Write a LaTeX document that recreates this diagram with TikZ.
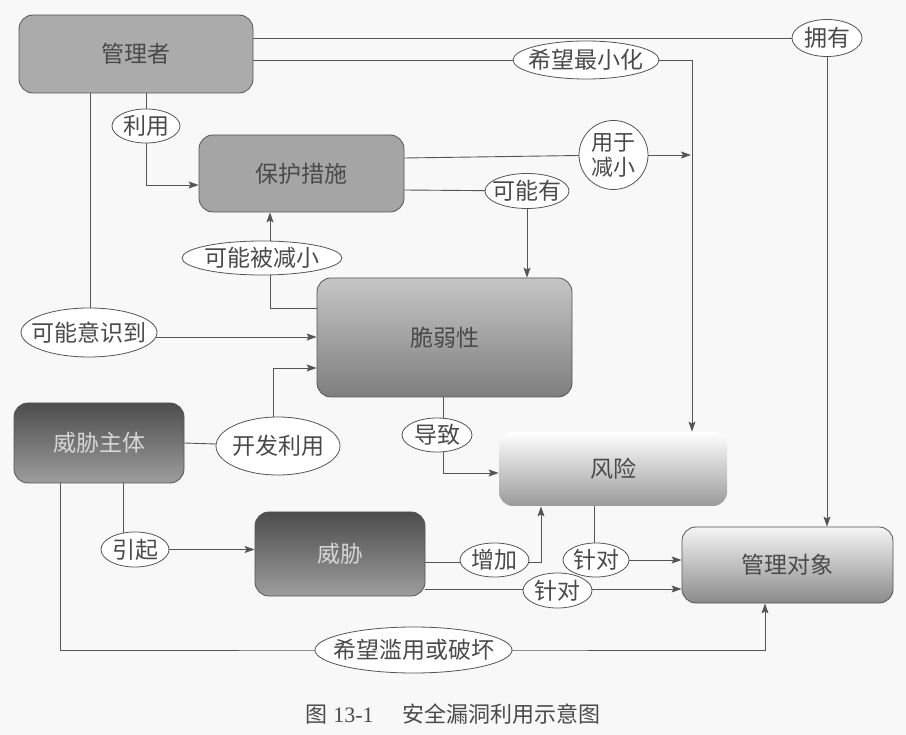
\documentclass[tikz,border=0pt]{standalone}
\usepackage{fontspec}
\setmainfont{Liberation Serif}
\newfontfamily\cjk{Noto Sans CJK SC}
\usetikzlibrary{shapes.geometric,arrows.meta,backgrounds}
\definecolor{lncol}{HTML}{555555}
\definecolor{txt}{HTML}{4A4A4A}
\definecolor{lighttxt}{HTML}{D6D6D6}
\definecolor{bgcol}{HTML}{F8F8F8}
\definecolor{mgrfill}{HTML}{ABABAB}
\definecolor{protfill}{HTML}{A5A5A5}
\definecolor{vultop}{HTML}{C6C6C6}
\definecolor{vulbot}{HTML}{7E7E7E}
\definecolor{darktop}{HTML}{4D4D4D}
\definecolor{darkmid}{HTML}{585858}
\definecolor{darkbot}{HTML}{9D9D9D}
\definecolor{riskbot}{HTML}{9A9A9A}
\definecolor{objtop}{HTML}{F5F5F5}
\definecolor{objbot}{HTML}{8A8A8A}
\begin{document}
\begin{tikzpicture}[x=1pt,y=-1pt,
  font=\cjk\fontsize{23}{26}\selectfont,
  every label/.style={text=txt, inner sep=0pt},
  box/.style={rounded corners=14pt, draw=lncol, line width=0.8pt, inner sep=0pt, align=center, text=txt},
  lab/.style={ellipse, draw=lncol, line width=0.8pt, fill=white, inner sep=0pt},
  con/.style={draw=lncol, line width=0.9pt},
  arr/.style={con, -{Stealth[length=10pt,width=7pt,inset=2pt]}}
]
\useasboundingbox (0,0) rectangle (906,735);

% boxes
\node[box, minimum width=234pt, minimum height=78pt, fill=mgrfill] (mgr) at (136,54) {管理者};
\node[box, minimum width=205pt, minimum height=77pt, fill=protfill] (prot) at (301.5,173.5) {保护措施};
\node[box, minimum width=255pt, minimum height=119pt, top color=vultop, bottom color=vulbot] (vul) at (444.5,337.5) {脆弱性};
\node[box, minimum width=170pt, minimum height=80pt, top color=darktop, middle color=darkmid, bottom color=darkbot, text=lighttxt] (tsub) at (99,443) {威胁主体};
\node[box, minimum width=170pt, minimum height=84pt, top color=darktop, middle color=darkmid, bottom color=darkbot, text=lighttxt] (thr) at (340,554) {威胁};
\node[box, draw=none, minimum width=228pt, minimum height=74pt, top color=white, bottom color=riskbot] (risk) at (613,469) {风险};
\node[box, minimum width=211pt, minimum height=76pt, top color=objtop, bottom color=objbot] (obj) at (787.5,565) {管理对象};

% labels
\node[lab, minimum width=68pt, minimum height=34pt, label=center:利用] (use) at (146,126) {};
\node[lab, minimum width=160pt, minimum height=34pt, label=center:可能被减小] (redu) at (262,258) {};
\node[lab, minimum width=136pt, minimum height=49pt, label=center:可能意识到] (aware) at (89,332.5) {};
\node[lab, minimum width=124pt, minimum height=58pt, label=center:开发利用] (expl) at (278,446) {};
\node[lab, minimum width=68pt, minimum height=35pt, label=center:引起] (cause) at (135,549.5) {};
\node[lab, minimum width=197pt, minimum height=46pt, label=center:希望滥用或破坏] (abuse) at (413.5,650) {};
\node[lab, minimum width=146pt, minimum height=38pt, label=center:希望最小化] (min) at (586,60) {};
\node[lab, minimum width=70pt, minimum height=37pt, label=center:拥有] (own) at (827,38) {};
\node[lab, circle, minimum size=69pt, label={[align=center, font=\cjk\fontsize{22}{25}\selectfont]center:用于\\减小}] (forr) at (613.5,155) {};
\node[lab, minimum width=84pt, minimum height=35pt, label=center:可能有] (may) at (527,191) {};
\node[lab, minimum width=70pt, minimum height=34pt, label=center:导致] (lead) at (437,435) {};
\node[lab, minimum width=69pt, minimum height=34pt, label=center:增加] (inc) at (494.5,560) {};
\node[lab, minimum width=66pt, minimum height=34pt, label=center:针对] (tgta) at (596,560) {};
\node[lab, minimum width=69pt, minimum height=35pt, label=center:针对] (tgtb) at (557.5,590.5) {};

% caption
\node[text=txt, font=\fontsize{22}{25}\selectfont] (cap) at (453,714) {{\cjk 图} 13-1\hspace{1.3em}{\cjk 安全漏洞利用示意图}};

\begin{pgfonlayer}{background}
\fill[bgcol] (0,0) rectangle (906,735);
% manager connectors
\draw[con] (mgr.east |- 0,38) -- (own.center);
\draw[arr] (own.south) -- (own.south |- obj.north);
\draw[con] (mgr.east |- 0,60) -- (min.center);
\draw[arr] (min.center) -| (risk.north -| 692,0);
\draw[con] (mgr.south -| use.center) -- (use.center);
\draw[arr] (use.center) |- (prot.west |- 0,185);
\draw[con] (mgr.south -| 90,0) -- (aware.center -| 90,0);
\draw[arr] (aware.center |- 0,337) -- (vul.west |- 0,337);
% protection
\draw[con] (prot.east |- 0,158) -- (forr.center);
\draw[arr] (forr.center) -- (forr.center -| 691,0);
\draw[con] (prot.east |- 0,190) -- (may.center);
\draw[arr] (may.center) -- (may.center |- vul.north);
\draw[arr] (vul.west |- 0,308) -| (prot.south -| 270,0);
% threat source
\draw[con] (tsub.east |- 0,443) -- (expl.center);
\draw[arr] (expl.center -| 273,0) |- (vul.west |- 0,368);
\draw[arr] (vul.south -| 443,0) |- (risk.west |- 0,473);
\draw[con] (tsub.south -| 123,0) -- (cause.center -| 123,0) -- (cause.center);
\draw[arr] (cause.center) -- (thr.west |- cause.center);
\draw[arr] (thr.east |- 0,562) -| (risk.south -| 541,0);
\draw[arr] (risk.south -| 594,0) |- (obj.west |- 0,560);
\draw[arr] (thr.east |- 0,589) -- (obj.west |- 0,589);
\draw[arr] (tsub.south -| 60,0) |- (abuse.center) -| (obj.south -| 765,0);
\end{pgfonlayer}
\end{tikzpicture}
\end{document}
